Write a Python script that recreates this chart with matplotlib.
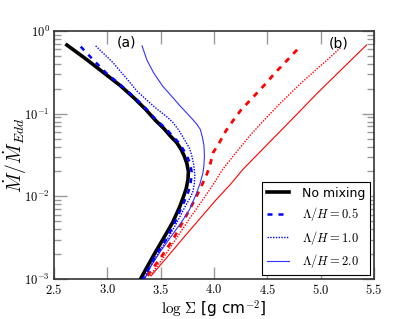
import matplotlib
matplotlib.use('Agg')
import matplotlib.pyplot as plt
from matplotlib.ticker import FuncFormatter, LogLocator, MultipleLocator
import numpy as np

plt.rcParams['mathtext.fontset'] = 'cm'
plt.rcParams['font.family'] = ['DejaVu Sans']

# curves: log Sigma vs log10(Mdot/Mdot_Edd)
no_mix_x = [2.62, 2.80, 2.97, 3.12, 3.25, 3.36, 3.45, 3.53, 3.59, 3.65, 3.69, 3.72, 3.745, 3.76, 3.755, 3.74, 3.72, 3.68, 3.61, 3.52, 3.43, 3.335, 3.31]
no_mix_y = [-0.17, -0.34, -0.51, -0.66, -0.81, -0.95, -1.08, -1.18, -1.27, -1.35, -1.43, -1.51, -1.60, -1.70, -1.80, -1.90, -1.98, -2.12, -2.32, -2.52, -2.72, -2.94, -3.0]

b05_x = [2.75, 2.86, 2.99, 3.13, 3.26, 3.37, 3.46, 3.55, 3.61, 3.67, 3.71, 3.745, 3.775, 3.79, 3.785, 3.77, 3.75, 3.70, 3.63, 3.55, 3.45, 3.36, 3.33]
b05_y = [-0.19, -0.34, -0.51, -0.66, -0.81, -0.95, -1.08, -1.18, -1.27, -1.35, -1.43, -1.51, -1.60, -1.70, -1.80, -1.90, -1.98, -2.12, -2.32, -2.52, -2.72, -2.94, -3.0]

b10_x = [2.89, 3.05, 3.17, 3.28, 3.39, 3.47, 3.55, 3.61, 3.67, 3.73, 3.77, 3.79, 3.81, 3.82, 3.815, 3.80, 3.77, 3.73, 3.65, 3.57, 3.46, 3.37, 3.34]
b10_y = [-0.18, -0.38, -0.56, -0.73, -0.86, -0.95, -1.03, -1.10, -1.20, -1.33, -1.42, -1.50, -1.62, -1.75, -1.85, -1.95, -2.03, -2.12, -2.32, -2.50, -2.72, -2.92, -3.0]

b20_x = [3.325, 3.37, 3.435, 3.52, 3.61, 3.684, 3.75, 3.80, 3.84, 3.871, 3.89, 3.905, 3.91, 3.905, 3.895, 3.87, 3.83, 3.77, 3.69, 3.60, 3.50, 3.40, 3.35]
b20_y = [-0.18, -0.35, -0.51, -0.67, -0.80, -0.91, -1.00, -1.07, -1.13, -1.19, -1.28, -1.38, -1.51, -1.63, -1.72, -1.84, -1.98, -2.16, -2.32, -2.48, -2.66, -2.86, -3.0]

r05_x = [3.375, 3.50, 3.615, 3.72, 3.82, 3.88, 3.93, 3.96, 3.99, 4.05, 4.11, 4.175, 4.25, 4.33, 4.41, 4.49, 4.57, 4.66, 4.74, 4.815]
r05_y = [-2.96, -2.74, -2.52, -2.28, -2.04, -1.88, -1.74, -1.635, -1.474, -1.35, -1.21, -1.09, -0.96, -0.85, -0.74, -0.63, -0.51, -0.39, -0.28, -0.18]

r10_x = [3.40, 3.52, 3.64, 3.77, 3.895, 3.99, 4.08, 4.20, 4.34, 4.49, 4.64, 4.80, 4.955, 5.08, 5.19]
r10_y = [-2.96, -2.75, -2.52, -2.27, -2.04, -1.86, -1.675, -1.48, -1.26, -1.05, -0.85, -0.65, -0.47, -0.33, -0.197]

r20_x = [3.41, 3.55, 3.70, 3.86, 4.02, 4.15, 4.27, 4.425, 4.60, 4.79, 4.97, 5.20, 5.43]
r20_y = [-2.96, -2.75, -2.52, -2.28, -2.04, -1.86, -1.675, -1.47, -1.24, -0.99, -0.75, -0.46, -0.17]

fig = plt.figure(figsize=(4.16, 3.19), dpi=100)
ax = fig.add_axes([0.13, 0.125, 0.769, 0.778])

def p(xs, ys):
    return np.array(xs), 10 ** np.array(ys)

ax.plot(*p(r05_x, r05_y), color='red', lw=2.0, ls=(0, (2, 2.2)))
ax.plot(*p(r10_x, r10_y), color='red', lw=1.0, ls=(0, (1, 1)))
ax.plot(*p(r20_x, r20_y), color='red', lw=0.8)
ax.plot(*p(b20_x, b20_y), color='#3333ff', lw=0.8, label=r'$\Lambda/H = 2.0$')
ax.plot(*p(b10_x, b10_y), color='blue', lw=1.0, ls=(0, (1, 1)), label=r'$\Lambda/H = 1.0$')
ax.plot(*p(no_mix_x, no_mix_y), color='black', lw=2.6, label='No mixing', zorder=3,
        solid_joinstyle='round')
ax.plot(*p(b05_x, b05_y), color='blue', lw=1.8, ls=(0, (2, 2.4)), label=r'$\Lambda/H = 0.5$', zorder=4)

ax.set_yscale('log')
ax.set_xlim(2.5, 5.5)
ax.set_ylim(1e-3, 1)
ax.xaxis.set_major_locator(MultipleLocator(0.5))
ax.xaxis.set_major_formatter(FuncFormatter(lambda v, pos: r'$%.1f$' % v))
ax.yaxis.set_major_locator(LogLocator(base=10))
ax.yaxis.set_minor_locator(LogLocator(base=10, subs=np.arange(2, 10)))
ax.yaxis.set_major_formatter(FuncFormatter(lambda v, pos: r'$10^{%d}$' % round(np.log10(v))))
ax.tick_params(which='both', direction='in', top=True, right=True, color='#999999', labelsize=9, pad=3)
ax.tick_params(which='major', length=9, width=1)
ax.tick_params(which='minor', length=5, width=1)
for s in ax.spines.values():
    s.set_color('#333333')
    s.set_linewidth(1.2)

ax.set_ylabel(r'$\dot M/\dot M_{Edd}$', fontsize=14)
ax.yaxis.set_label_coords(-0.078, 0.5)
ax.set_xlabel(r'$\log\,\Sigma$ [g cm$^{-2}$]', fontsize=11, labelpad=1)

ax.text(3.18, 10 ** -0.14, '(a)', fontsize=10, ha='center', va='center')
ax.text(5.17, 10 ** -0.15, '(b)', fontsize=10, ha='center', va='center')

h, l = ax.get_legend_handles_labels()
order = ['No mixing', r'$\Lambda/H = 0.5$', r'$\Lambda/H = 1.0$', r'$\Lambda/H = 2.0$']
hd = dict(zip(l, h))
leg = ax.legend([hd[k] for k in order], order, loc='lower right', fontsize=9,
                fancybox=False, edgecolor='black', framealpha=1, borderaxespad=0.3,
                handlelength=1.8, labelspacing=0.45, handletextpad=1.0)
leg.get_frame().set_linewidth(0.8)

fig.savefig('out.png', dpi=100)
